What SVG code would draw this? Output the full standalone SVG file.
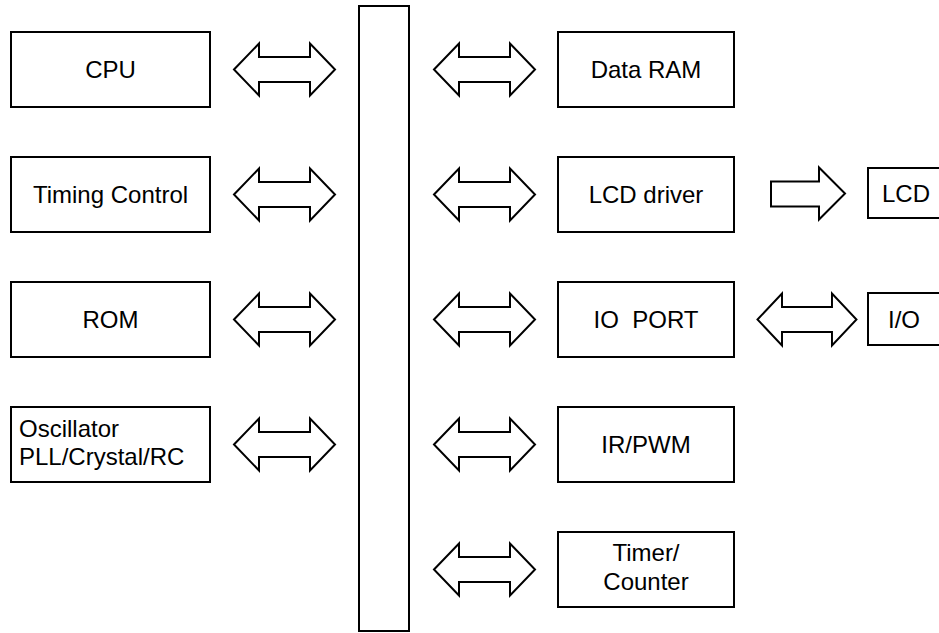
<svg xmlns="http://www.w3.org/2000/svg" xmlns:xlink="http://www.w3.org/1999/xlink" width="939" height="633" viewBox="0 0 939 633">
<style>
.box{fill:#fff;stroke:#000;stroke-width:2}
.arr{fill:#fff;stroke:#000;stroke-width:2;stroke-linejoin:miter}
text{font-family:"Liberation Sans",Arial,sans-serif;font-size:24px;fill:#000}
.c{text-anchor:middle}
</style>
<defs>
<path id="dbl" d="M0,0 L25,-26 L25,-12.5 L76,-12.5 L76,-26 L101,0 L76,26 L76,12.5 L25,12.5 L25,26 Z"/>
</defs>
<rect width="939" height="633" fill="#fff"/>
<g id="connectors">
<use xlink:href="#dbl" href="#dbl" class="arr" transform="translate(234,69.5)"/>
<use xlink:href="#dbl" href="#dbl" class="arr" transform="translate(234,194.5)"/>
<use xlink:href="#dbl" href="#dbl" class="arr" transform="translate(234,319.5)"/>
<use xlink:href="#dbl" href="#dbl" class="arr" transform="translate(234,444.5)"/>
<use xlink:href="#dbl" href="#dbl" class="arr" transform="translate(434,69.5)"/>
<use xlink:href="#dbl" href="#dbl" class="arr" transform="translate(434,194.5)"/>
<use xlink:href="#dbl" href="#dbl" class="arr" transform="translate(434,319.5)"/>
<use xlink:href="#dbl" href="#dbl" class="arr" transform="translate(434,444.5)"/>
<use xlink:href="#dbl" href="#dbl" class="arr" transform="translate(434,569.5)"/>
<use xlink:href="#dbl" href="#dbl" class="arr" transform="translate(757.5,319.5) scale(0.98,1)"/>
<path class="arr" d="M771,181.5 L819,181.5 L819,167.5 L845,193.5 L819,219.5 L819,206.5 L771,206.5 Z"/>
</g>
<g id="bus"><rect class="box" x="359" y="6" width="50" height="625"/></g>
<g id="cpu"><rect class="box" x="11" y="32" width="199" height="75"/><text class="c" x="110.5" y="78">CPU</text></g>
<g id="timing"><rect class="box" x="11" y="157" width="199" height="75"/><text class="c" x="110.5" y="203">Timing Control</text></g>
<g id="rom"><rect class="box" x="11" y="282" width="199" height="75"/><text class="c" x="110.5" y="328">ROM</text></g>
<g id="osc"><rect class="box" x="11" y="407" width="199" height="75"/><text x="19" y="437">Oscillator</text><text x="19" y="464.5">PLL/Crystal/RC</text></g>
<g id="dataram"><rect class="box" x="558" y="32" width="176" height="75"/><text class="c" x="646" y="78">Data RAM</text></g>
<g id="lcddriver"><rect class="box" x="558" y="157" width="176" height="75"/><text class="c" x="646" y="203">LCD driver</text></g>
<g id="ioport"><rect class="box" x="558" y="282" width="176" height="75"/><text class="c" x="646" y="328" xml:space="preserve">IO  PORT</text></g>
<g id="irpwm"><rect class="box" x="558" y="407" width="176" height="75"/><text class="c" x="646" y="453">IR/PWM</text></g>
<g id="timer"><rect class="box" x="558" y="532" width="176" height="75"/><text class="c" x="646" y="561">Timer/</text><text class="c" x="646" y="590">Counter</text></g>
<g id="lcd"><rect class="box" x="868" y="168" width="100" height="50"/><text x="882" y="202">LCD</text></g>
<g id="io"><rect class="box" x="868" y="293" width="100" height="52"/><text x="888" y="328">I/O</text></g>
</svg>
